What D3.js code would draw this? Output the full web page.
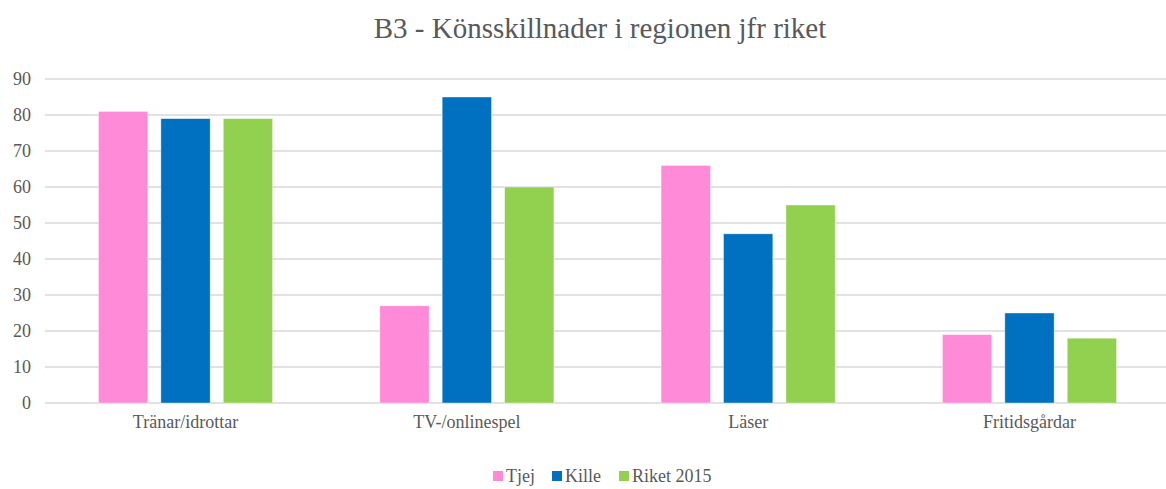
<!DOCTYPE html>
<html>
<head>
<meta charset="utf-8">
<script src="https://cdn.jsdelivr.net/npm/d3@7"></script>
<style>
  body { margin: 0; background: #fff; }
  svg text { font-family: "Liberation Serif", "Times New Roman", serif !important; }
</style>
</head>
<body>
<svg id="chart"></svg>
<script>
// data
const categories = ['Tränar/idrottar', 'TV-/onlinespel', 'Läser', 'Fritidsgårdar']
const seriesNames = ['Tjej', 'Kille', 'Riket 2015']
const tjej = [81, 27, 66, 19]
const kille = [79, 85, 47, 25]
const riket = [79, 60, 55, 18]
const yTicks = [0, 10, 20, 30, 40, 50, 60, 70, 80, 90]
const colors = ['#FF8AD8', '#0070C0', '#92D050']

const width = 1166, height = 489
const margin = {top: 79, right: 0, bottom: 86, left: 45}
const innerH = height - margin.top - margin.bottom

const svg = d3.select('#chart').attr('width', width).attr('height', height)

const table = categories.map((c, i) => ({cat: c, values: [tjej[i], kille[i], riket[i]]}))

// band runs a bit past the right edge, like the original
const x0 = d3.scaleBand()
    .domain(categories)
    .range([margin.left, margin.left + 1125])
    .paddingInner(0.381)
    .paddingOuter(0.19)

const x1 = d3.scaleBand()
    .domain(d3.range(seriesNames.length))
    .range([0, x0.bandwidth()])
    .paddingInner(0.21)

const y = d3.scaleLinear()
    .domain([0, 90])
    .range([margin.top + innerH, margin.top])

// gridlines
svg.append('g')
    .selectAll('line')
    .data(yTicks)
    .join('line')
      .attr('x1', margin.left)
      .attr('x2', width - margin.right)
      .attr('y1', d => y(d))
      .attr('y2', d => y(d))
      .attr('stroke', '#d9d9d9')
      .attr('stroke-width', 1.5)

// y axis labels
const yAxis = svg.append('g')
    .attr('transform', 'translate(' + (margin.left - 14) + ',0)')
    .call(d3.axisLeft(y).tickValues(yTicks).tickSize(0).tickPadding(0))
yAxis.select('.domain').remove()
yAxis.selectAll('text')
    .attr('fill', '#595959')
    .style('font-size', '18px')

// bars
svg.append('g')
    .selectAll('g')
    .data(table)
    .join('g')
      .attr('transform', d => 'translate(' + x0(d.cat) + ',0)')
    .selectAll('rect')
    .data(d => d.values.map((v, i) => ({i: i, v: v})))
    .join('rect')
      .attr('x', d => x1(d.i))
      .attr('width', x1.bandwidth())
      .attr('y', d => y(d.v))
      .attr('height', d => y(0) - y(d.v))
      .attr('fill', d => colors[d.i])
      .attr('stroke', '#fff')
      .attr('stroke-opacity', 0.5)
      .attr('stroke-width', 0.8)

// category axis
const xAxis = svg.append('g')
    .attr('transform', 'translate(0,' + (y(0) + 12) + ')')
    .call(d3.axisBottom(x0).tickSize(0).tickPadding(0))
xAxis.select('.domain').remove()
xAxis.selectAll('text')
    .attr('fill', '#595959')
    .style('font-size', '18px')

// title
svg.append('text')
    .attr('x', 600)
    .attr('y', 38)
    .attr('text-anchor', 'middle')
    .style('font-size', '29px')
    .attr('fill', '#595959')
    .text('B3 - Könsskillnader i regionen jfr riket')

// legend
const legendX = [493, 552, 619]
const legend = svg.append('g')
    .selectAll('g')
    .data(seriesNames)
    .join('g')
      .attr('transform', (d, i) => 'translate(' + legendX[i] + ',471)')
legend.append('rect')
    .attr('width', 10)
    .attr('height', 10)
    .attr('fill', (d, i) => colors[i])
legend.append('text')
    .attr('x', 13)
    .attr('y', 11)
    .style('font-size', '18px')
    .attr('fill', '#595959')
    .text(d => d)
</script>
</body>
</html>
